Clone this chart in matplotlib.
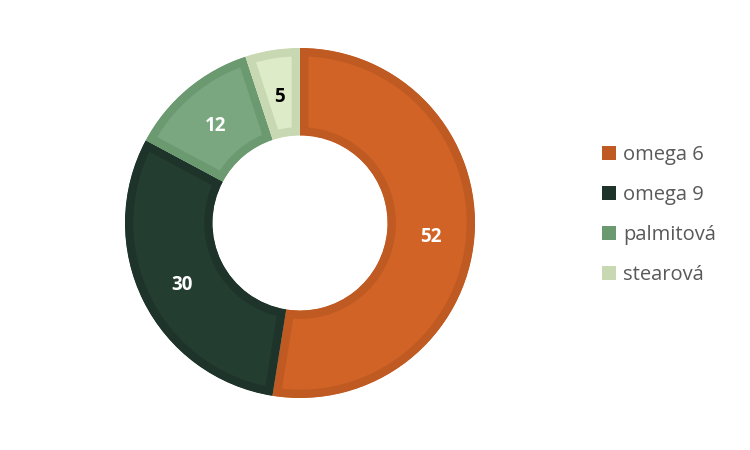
import numpy as np
import matplotlib.pyplot as plt
from matplotlib.patches import Patch, Wedge

labels = ['omega 6', 'omega 9', 'palmitová', 'stearová']
values = [52, 30, 12, 5]
fills = ['#D06325', '#243D31', '#7AA780', '#DDEBC9']
borders = ['#BE5A22', '#1E3329', '#6B9A71', '#C8D8B2']
text_colors = ['white', 'white', 'white', 'black']

fig = plt.figure(figsize=(7.5, 4.5), dpi=100)
ax = fig.add_axes([125 / 750, 52 / 450, 350 / 750, 350 / 450])

wedges, _ = ax.pie(values, colors=fills, startangle=90, counterclock=False,
                   radius=1.0, wedgeprops=dict(width=0.5, linewidth=12))
ax.set_xlim(-1, 1)
ax.set_ylim(-1, 1)
ax.set_aspect('equal')
ax.axis('off')

# border drawn inside each wedge only
for w, b in zip(wedges, borders):
    w.set_edgecolor(b)
    clip = Wedge(w.center, w.r, w.theta1, w.theta2, width=w.width, transform=ax.transData)
    w.set_clip_on(True)
    w.set_clip_path(clip)

# value labels in the middle of the ring
total = sum(values)
start = 90.0
for v, c in zip(values, text_colors):
    mid = np.deg2rad(start - v / total * 180)
    ax.text(0.75 * np.cos(mid), 0.75 * np.sin(mid) - 0.02, str(v), ha='center', va='center',
            fontsize=13.5, fontweight='bold', color=c, family='Open Sans')
    start -= v / total * 360

handles = [Patch(facecolor=b, edgecolor='none') for b in borders]
fig.legend(handles, labels, loc='center left', bbox_to_anchor=(584 / 750, 0.5 + 10 / 450),
           frameon=False, labelspacing=1.0, handlelength=0.7, handleheight=0.7,
           handletextpad=0.35, prop=dict(family='Open Sans', size=14.5), labelcolor='#595959')

fig.savefig('out.png', dpi=100)
